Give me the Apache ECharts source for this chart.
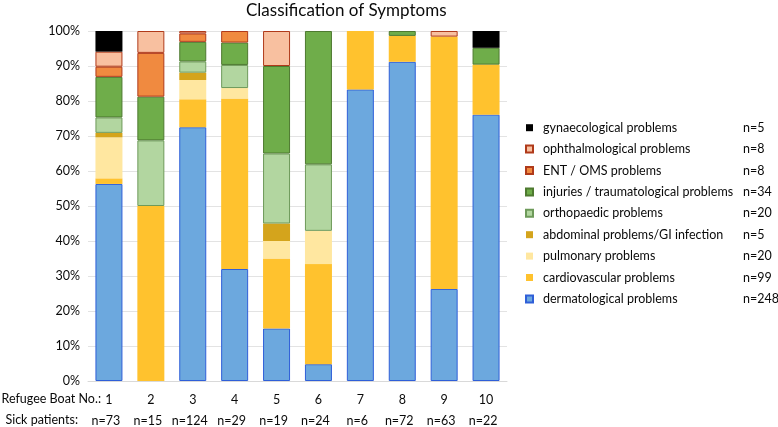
<!DOCTYPE html>
<html><head><meta charset="utf-8">
<script src="https://cdn.jsdelivr.net/npm/echarts@6/dist/echarts.min.js"></script>
<style>html,body{margin:0;padding:0;background:#fff}#c{width:778px;height:427px}</style>
</head><body><div id="c"></div>
<script>
var boats = ['1','2','3','4','5','6','7','8','9','10'];
var patients = [73,15,124,29,19,24,6,72,63,22];
// percentages per boat
var dermatological = [56.3, null, 72.5, 32.0, 15, 4.8, 83.3, 91.2, 26.3, 76.1];
var cardiovascular = [1.6, 50, 8.0, 48.7, 20, 28.6, 16.7, 7.4, 72.1, 14.3];
var pulmonary = [11.7, null, 5.5, 3.0, 5, 9.5, null, null, null, null];
var abdominal = [1.3, null, 2.1, null, 5, null, null, null, null, null];
var orthopaedic = [4.4, 18.75, 3.2, 6.6, 20, 19.0, null, null, null, null];
var injuries = [11.6, 12.5, 5.6, 6.4, 25, 38.1, null, 1.4, null, 4.8];
var ent = [2.9, 12.5, 2.4, 3.3, null, null, null, null, null, null];
var ophthalmological = [4.3, 6.25, 0.7, null, 10, null, null, null, 1.6, null];
var gynaecological = [5.9, null, null, null, null, null, null, null, null, 4.8];

var legendNames = ['gynaecological problems','ophthalmological problems','ENT / OMS problems','injuries / traumatological problems','orthopaedic problems','abdominal problems/GI infection','pulmonary problems','cardiovascular problems','dermatological problems'];
var legendCounts = [5,8,8,34,20,5,20,99,248];

var FONT = 'Lato';
var FS = 12.5;
var TXT = '#0a0a0a';
function mk(name, data, color, border) {
  return {
    name: name, type: 'bar', stack: 'all', data: data, barWidth: 27,
    itemStyle: {color: color, borderColor: border || color, borderWidth: border ? 1 : 0},
    emphasis: {disabled: true}
  };
}
var series = [
  mk('dermatological problems', dermatological, '#6CA8DE', '#2F5FD8'),
  mk('cardiovascular problems', cardiovascular, '#FFC22E'),
  mk('pulmonary problems', pulmonary, '#FFE7A0'),
  mk('abdominal problems/GI infection', abdominal, '#D4A41C'),
  mk('orthopaedic problems', orthopaedic, '#B2D6A0', '#6E9A5A'),
  mk('injuries / traumatological problems', injuries, '#6FAD4A', '#4E7A30'),
  mk('ENT / OMS problems', ent, '#F08A40', '#B03A1A'),
  mk('ophthalmological problems', ophthalmological, '#F8C0A0', '#B03A1A'),
  mk('gynaecological problems', gynaecological, '#000000')
];

var chart = echarts.init(document.getElementById('c'));
chart.setOption({
  animation: false,
  title: {text: 'Classification of Symptoms', left: 241, top: -3,
    textStyle: {fontFamily: FONT, fontSize: 17, fontWeight: 'normal', color: TXT}},
  grid: {left: 88, right: 271, top: 31, bottom: 46},
  legend: {
    orient: 'vertical', left: 520, top: 114.7, itemWidth: 7, itemHeight: 7, itemGap: 5.4,
    icon: 'rect', data: legendNames, selectedMode: false,
    formatter: function (n) { return '{a|' + n + '}{b|n=' + legendCounts[legendNames.indexOf(n)] + '}'; },
    textStyle: {fontFamily: FONT, fontSize: FS, color: TXT, lineHeight: 16,
      rich: {a: {fontFamily: FONT, fontSize: FS, color: TXT, width: 200, padding: [0,0,0,5], lineHeight: 16},
             b: {fontFamily: FONT, fontSize: FS, color: TXT, lineHeight: 16}}}
  },
  xAxis: {
    type: 'category', data: boats,
    axisLine: {show: true, lineStyle: {color: '#d9d9d9'}}, axisTick: {show: false},
    axisLabel: {margin: 8, interval: 0,
      formatter: function (v, i) { return '{a|' + v + '}\n{b|n=' + patients[i] + '}'; },
      rich: {a: {fontFamily: FONT, fontSize: FS, color: TXT, lineHeight: 21},
             b: {fontFamily: FONT, fontSize: FS, color: TXT, lineHeight: 21, padding: [0,6,0,0]}}}
  },
  yAxis: {
    type: 'value', min: 0, max: 100, interval: 10,
    axisLine: {show: false}, axisTick: {show: false},
    splitLine: {lineStyle: {color: '#e3e3e3'}},
    axisLabel: {formatter: '{value}%', fontFamily: FONT, fontSize: FS, color: TXT, margin: 8}
  },
  graphic: [
    {type: 'text', x: 101, y: 399, style: {text: 'Refugee Boat No.:', fontFamily: FONT, fontSize: FS, fill: TXT, align: 'right', verticalAlign: 'middle'}},
    {type: 'text', x: 78, y: 420, style: {text: 'Sick patients:', fontFamily: FONT, fontSize: FS, fill: TXT, align: 'right', verticalAlign: 'middle'}}
  ],
  series: series
});
</script></body></html>
